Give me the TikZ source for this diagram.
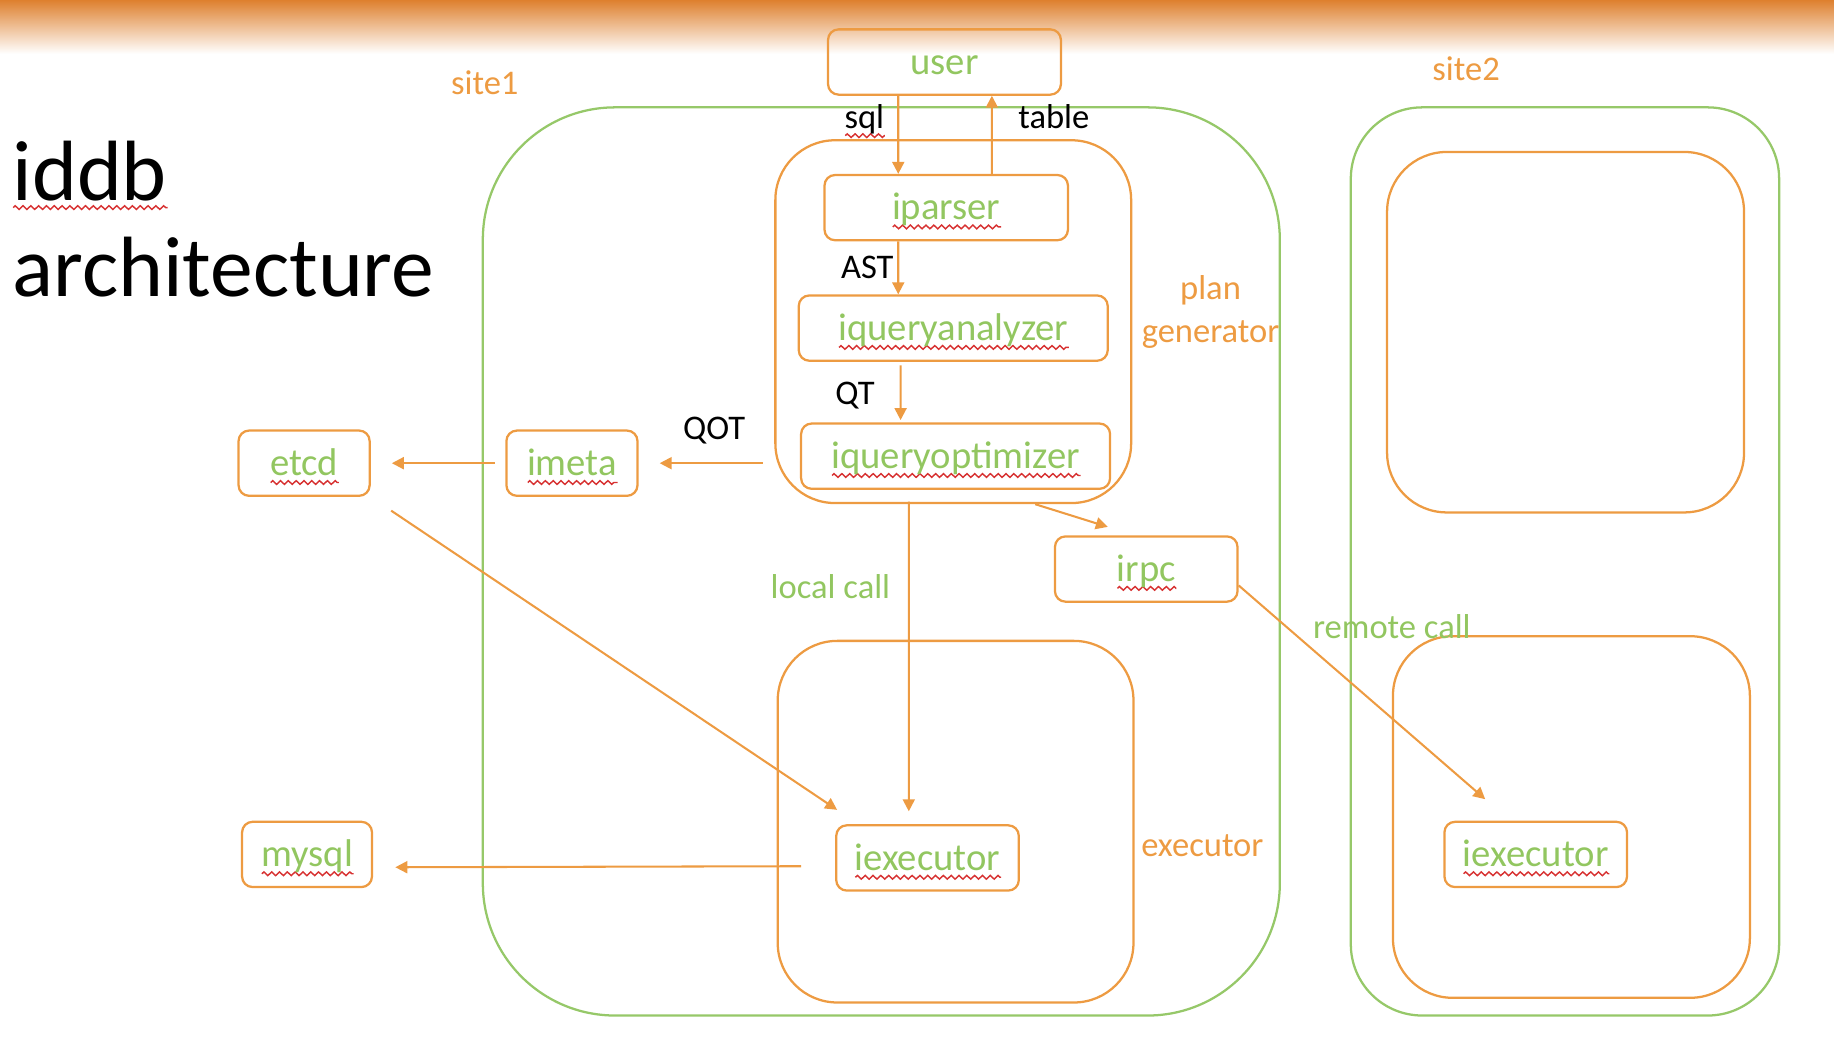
\documentclass[tikz,border=0pt]{standalone}
\usepackage{fontspec}
\setmainfont{Carlito}
\usepackage{tikz}
\usetikzlibrary{arrows.meta,decorations.pathmorphing}
\definecolor{lineorange}{RGB}{237,155,66}
\definecolor{txtgreen}{RGB}{146,198,96}
\definecolor{sitegreen}{RGB}{150,200,105}
\definecolor{barorange}{RGB}{222,128,46}
\definecolor{wavered}{RGB}{215,50,50}
\newlength\wavelen
\newcommand\redwave[1]{\settowidth\wavelen{#1}\rlap{\tikz[baseline=0pt]\draw[wavered, sharp corners, line width=0.35pt, decorate, decoration={zigzag, segment length=1.9pt, amplitude=0.45pt}] (0pt,-1.7pt) -- (\wavelen,-1.7pt);}#1}
\tikzstyle{box}   = [draw=lineorange, line width=0.55pt, rounded corners=0.9mm, text=txtgreen, font=\fontsize{9.4}{11}\selectfont, text height=7.6pt, text depth=1.6pt]
\tikzstyle{group} = [draw=lineorange, line width=0.55pt, rounded corners=5.1mm]
\tikzstyle{site}  = [draw=sitegreen, line width=0.55pt]
\tikzstyle{lbl}   = [font=\fontsize{8.4}{10.5}\selectfont, anchor=base, inner sep=0pt]
\tikzstyle{arrow} = [draw=lineorange, line width=0.5pt, -{Triangle[length=2.9pt,width=2.9pt]}]
\begin{document}
\begin{tikzpicture}[x=0.01cm, y=-0.01cm]
        \useasboundingbox (0,0) rectangle (1568,887);
        \shade[top color=barorange, middle color=barorange!45, bottom color=white] (0,0) rectangle (1568,46);

        \node[anchor=north west, align=left, inner sep=0pt, font=\fontsize{20.8}{23.2}\selectfont] (title) at (10,120) {\redwave{iddb}\\architecture};

        \node[site, minimum width=6.81cm, minimum height=7.76cm, rounded corners=11.3mm] (site1) at (753.5,480) {};
        \node[site, minimum width=3.66cm, minimum height=7.76cm, rounded corners=6.1mm] (site2) at (1338,480) {};
        \node[lbl, text=lineorange] (site1lbl) at (414.5,81) {site1};
        \node[lbl, text=lineorange] (site2lbl) at (1253.5,69) {site2};

        \node[group, minimum width=3.04cm, minimum height=3.10cm] (plangen) at (815,275) {};
        \node[group, minimum width=3.04cm, minimum height=3.09cm] (execgrp) at (817,702.5) {};
        \node[group, minimum width=3.05cm, minimum height=3.08cm] (site2top) at (1338.5,284) {};
        \node[group, minimum width=3.05cm, minimum height=3.09cm] (site2exec) at (1343.5,698.5) {};
        \node[lbl, text=lineorange, align=center, anchor=center] (planlbl) at (1035,267) {plan\\generator};
        \node[lbl, text=lineorange] (execlbl) at (1028,732) {executor};

        \node[box, minimum width=1.99cm, minimum height=5.4mm] (user) at (807.5,53) {user};
        \node[box, minimum width=2.08cm, minimum height=4.9mm] (iparser) at (809,177.5) {\redwave{iparser}};
        \node[box, minimum width=2.64cm, minimum height=5.3mm] (ianalyzer) at (815,280.5) {\redwave{iqueryanalyzer}};
        \node[box, minimum width=2.64cm, minimum height=5.2mm] (ioptimizer) at (817,390) {\redwave{iqueryoptimizer}};
        \node[box, minimum width=1.12cm, minimum height=5.3mm] (imeta) at (489,396) {\redwave{imeta}};
        \node[box, minimum width=1.12cm, minimum height=5.4mm] (etcd) at (260,396) {\redwave{etcd}};
        \node[box, minimum width=1.56cm, minimum height=5.3mm] (irpc) at (980,486.5) {\redwave{irpc}};
        \node[box, minimum width=1.56cm, minimum height=5.3mm] (iexec) at (793,733.5) {\redwave{iexecutor}};
        \node[box, minimum width=1.11cm, minimum height=5.3mm] (mysql) at (262.5,730.5) {\redwave{mysql}};
        \node[box, minimum width=1.56cm, minimum height=5.3mm] (iexecb) at (1313,730.5) {\redwave{iexecutor}};

        \draw[arrow] ([xshift=-3.95mm]user.south) -- ([xshift=-4.1mm]iparser.north);
        \draw[arrow] ([xshift=3.9mm]iparser.north) -- ([xshift=4.05mm]user.south);
        \draw[arrow] ([xshift=-4.1mm]iparser.south) -- ([xshift=-4.7mm]ianalyzer.north);
        \draw[arrow, shorten <=0.3mm, shorten >=0.2mm] ([xshift=-4.5mm]ianalyzer.south) -- ([xshift=-4.7mm]ioptimizer.north);
        \draw[arrow, shorten <=1mm, shorten >=1.8mm] (imeta.east -| plangen.west) -- (imeta.east);
        \draw[arrow, shorten <=0.9mm, shorten >=1.8mm] (imeta.west) -- (etcd.east);
        \draw[arrow, shorten <=2.1mm, shorten >=2.2mm] (etcd.south east) -- ([xshift=2mm]iexec.north west);
        \draw[arrow, shorten <=1mm, shorten >=1.1mm] ([xshift=-4mm]ioptimizer.south) -- ([xshift=-1.6mm]iexec.north);
        \draw[arrow, shorten >=2.4mm] ([xshift=7mm]plangen.south) -- ([xshift=-1mm]irpc.north);
        \draw[arrow, shorten >=2.8mm] ([yshift=-1.4mm]irpc.east) -- ([xshift=-2.2mm]iexecb.north);
        \draw[arrow, shorten <=2.9mm, shorten >=1.9mm] ([yshift=-0.7mm]iexec.west) -- ([yshift=-1.1mm]mysql.east);

        \node[lbl] (sqllbl) at (739,110) {\redwave{sql}};
        \node[lbl] (tablelbl) at (901,110) {table};
        \node[lbl] (astlbl) at (741.5,238) {AST};
        \node[lbl] (qtlbl) at (731,346) {QT};
        \node[lbl] (qotlbl) at (610.5,376) {QOT};
        \node[lbl, text=txtgreen] (locallbl) at (710,512) {local call};
        \node[lbl, text=txtgreen] (remotelbl) at (1190,545.5) {remote call};
\end{tikzpicture}
\end{document}
